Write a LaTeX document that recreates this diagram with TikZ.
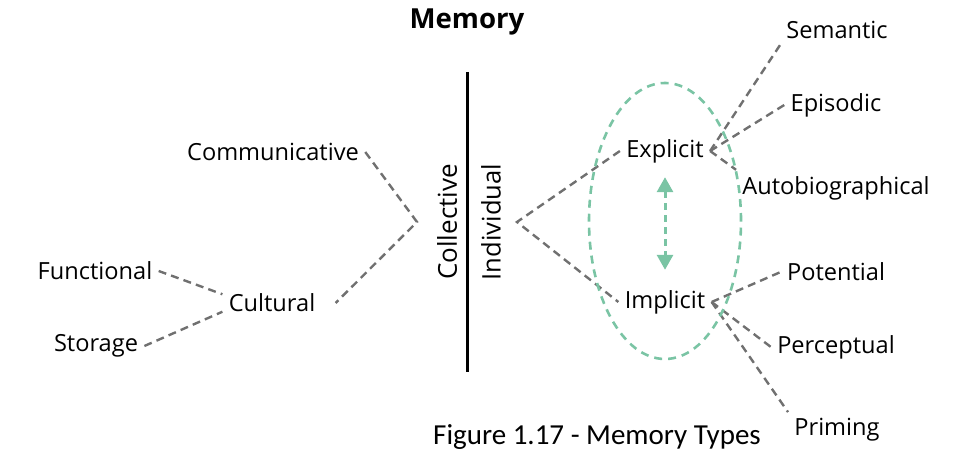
\documentclass[tikz,border=0pt]{standalone}
\usepackage{fontspec}
\setmainfont{Open Sans}
\newfontfamily\capfont{Carlito}
\usetikzlibrary{arrows.meta}
\definecolor{linkgrey}{RGB}{112,112,112}
\definecolor{mint}{RGB}{122,196,164}

\begin{document}
\begin{tikzpicture}[x=.5pt,y=-.5pt,
  label text/.style={font=\fontsize{11.8}{14}\selectfont,inner sep=3pt},
  link/.style={draw=linkgrey,line width=1.2pt,dash pattern=on 4pt off 2.6pt},
  zone/.style={draw=mint,line width=1.3pt,dash pattern=on 4pt off 3pt},
  twoway/.style={draw=mint,line width=1.5pt,dash pattern=on 3.5pt off 2.5pt,
    {Triangle[width=8pt,length=7.5pt]}-{Triangle[width=8pt,length=7.5pt]}}]
\useasboundingbox (0,0) rectangle (967,453);

\node[font=\fontsize{13.8}{16}\selectfont\bfseries] (memory) at (467,22) {Memory};
\coordinate (divtop) at (467,72);
\coordinate (divbot) at (467,372);
\draw[line width=1.5pt] (divtop) -- (divbot);
\node[rotate=90,font=\fontsize{13}{14}\selectfont] (coll) at (447,222) {Collective};
\node[rotate=90,font=\fontsize{12.8}{14}\selectfont] (indiv) at (491,222) {Individual};

\coordinate (cv) at (417,222);
\coordinate (iv) at (517,222);

\node[label text] (comm) at (273,152) {Communicative};
\node[label text] (cult) at (272,303) {Cultural};
\node[label text] (func) at (95,271) {Functional};
\node[label text] (stor) at (96,346) {Storage};

\node[label text] (expl) at (665,151) {Explicit};
\node[label text] (impl) at (665,302) {Implicit};

\node[label text] (sem) at (837,30) {Semantic};
\node[label text] (epi) at (836,105) {Episodic};
\node[label text] (auto) at (836,188) {Autobiographical};
\node[label text] (pot) at (836,272) {Potential};
\node[label text] (perc) at (836,347) {Perceptual};
\node[label text] (prim) at (837,430) {Priming};

\node[font=\capfont\fontsize{14.5}{16}\selectfont] (caption) at (597,437) {Figure 1.17 - Memory Types};

\draw[link] (comm.east) -- (cv) -- ([xshift=7pt]cult.east);
\draw[link] (func.east) -- (cult.170);
\draw[link] (stor.east) -- (cult.190);
\draw[link] (expl.west) -- (iv) -- (impl.west);
\draw[link] (expl.east) -- (sem.south west);
\draw[link] (expl.east) -- (epi.west);
\draw[link] (expl.east) -- (auto.north west);
\draw[link] (impl.east) -- (pot.west);
\draw[link] (impl.east) -- (perc.west);
\draw[link] (impl.east) -- (prim.north west);

\draw[zone] (665,221) ellipse [x radius=38pt, y radius=69pt];
\draw[twoway,shorten <=4pt,shorten >=7pt] (expl.south) -- (impl.north);
\end{tikzpicture}
\end{document}
